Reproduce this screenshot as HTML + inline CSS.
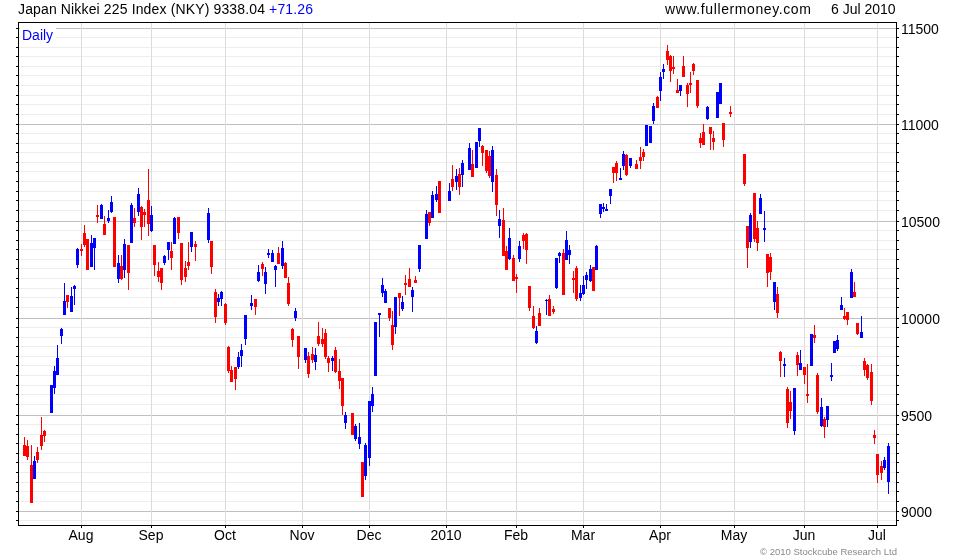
<!DOCTYPE html>
<html><head><meta charset="utf-8"><style>
html,body{margin:0;padding:0;background:#fff;}
body{width:980px;height:560px;position:relative;overflow:hidden;font-family:"Liberation Sans",sans-serif;}
svg{position:absolute;left:0;top:0;}
.t{position:absolute;white-space:nowrap;line-height:1;color:#000;will-change:transform;}
</style></head><body>
<svg width="980" height="560" viewBox="0 0 980 560" shape-rendering="crispEdges">
<rect x="19" y="520" width="877" height="1" fill="#eeeeee"/>
<rect x="16" y="520" width="2" height="1" fill="#000"/>
<rect x="897" y="520" width="2" height="1" fill="#000"/>
<rect x="19" y="511" width="877" height="1" fill="#c0c0c0"/>
<rect x="16" y="511" width="2" height="1" fill="#000"/>
<rect x="897" y="511" width="2" height="1" fill="#000"/>
<rect x="19" y="501" width="877" height="1" fill="#eeeeee"/>
<rect x="16" y="501" width="2" height="1" fill="#000"/>
<rect x="897" y="501" width="2" height="1" fill="#000"/>
<rect x="19" y="491" width="877" height="1" fill="#eeeeee"/>
<rect x="16" y="491" width="2" height="1" fill="#000"/>
<rect x="897" y="491" width="2" height="1" fill="#000"/>
<rect x="19" y="482" width="877" height="1" fill="#eeeeee"/>
<rect x="16" y="482" width="2" height="1" fill="#000"/>
<rect x="897" y="482" width="2" height="1" fill="#000"/>
<rect x="19" y="472" width="877" height="1" fill="#eeeeee"/>
<rect x="16" y="472" width="2" height="1" fill="#000"/>
<rect x="897" y="472" width="2" height="1" fill="#000"/>
<rect x="19" y="462" width="877" height="1" fill="#eeeeee"/>
<rect x="16" y="462" width="2" height="1" fill="#000"/>
<rect x="897" y="462" width="2" height="1" fill="#000"/>
<rect x="19" y="453" width="877" height="1" fill="#eeeeee"/>
<rect x="16" y="453" width="2" height="1" fill="#000"/>
<rect x="897" y="453" width="2" height="1" fill="#000"/>
<rect x="19" y="443" width="877" height="1" fill="#eeeeee"/>
<rect x="16" y="443" width="2" height="1" fill="#000"/>
<rect x="897" y="443" width="2" height="1" fill="#000"/>
<rect x="19" y="434" width="877" height="1" fill="#eeeeee"/>
<rect x="16" y="434" width="2" height="1" fill="#000"/>
<rect x="897" y="434" width="2" height="1" fill="#000"/>
<rect x="19" y="424" width="877" height="1" fill="#eeeeee"/>
<rect x="16" y="424" width="2" height="1" fill="#000"/>
<rect x="897" y="424" width="2" height="1" fill="#000"/>
<rect x="19" y="415" width="877" height="1" fill="#c0c0c0"/>
<rect x="16" y="415" width="2" height="1" fill="#000"/>
<rect x="897" y="415" width="2" height="1" fill="#000"/>
<rect x="19" y="404" width="877" height="1" fill="#eeeeee"/>
<rect x="16" y="404" width="2" height="1" fill="#000"/>
<rect x="897" y="404" width="2" height="1" fill="#000"/>
<rect x="19" y="394" width="877" height="1" fill="#eeeeee"/>
<rect x="16" y="394" width="2" height="1" fill="#000"/>
<rect x="897" y="394" width="2" height="1" fill="#000"/>
<rect x="19" y="385" width="877" height="1" fill="#eeeeee"/>
<rect x="16" y="385" width="2" height="1" fill="#000"/>
<rect x="897" y="385" width="2" height="1" fill="#000"/>
<rect x="19" y="375" width="877" height="1" fill="#eeeeee"/>
<rect x="16" y="375" width="2" height="1" fill="#000"/>
<rect x="897" y="375" width="2" height="1" fill="#000"/>
<rect x="19" y="365" width="877" height="1" fill="#eeeeee"/>
<rect x="16" y="365" width="2" height="1" fill="#000"/>
<rect x="897" y="365" width="2" height="1" fill="#000"/>
<rect x="19" y="356" width="877" height="1" fill="#eeeeee"/>
<rect x="16" y="356" width="2" height="1" fill="#000"/>
<rect x="897" y="356" width="2" height="1" fill="#000"/>
<rect x="19" y="346" width="877" height="1" fill="#eeeeee"/>
<rect x="16" y="346" width="2" height="1" fill="#000"/>
<rect x="897" y="346" width="2" height="1" fill="#000"/>
<rect x="19" y="337" width="877" height="1" fill="#eeeeee"/>
<rect x="16" y="337" width="2" height="1" fill="#000"/>
<rect x="897" y="337" width="2" height="1" fill="#000"/>
<rect x="19" y="327" width="877" height="1" fill="#eeeeee"/>
<rect x="16" y="327" width="2" height="1" fill="#000"/>
<rect x="897" y="327" width="2" height="1" fill="#000"/>
<rect x="19" y="318" width="877" height="1" fill="#c0c0c0"/>
<rect x="16" y="318" width="2" height="1" fill="#000"/>
<rect x="897" y="318" width="2" height="1" fill="#000"/>
<rect x="19" y="307" width="877" height="1" fill="#eeeeee"/>
<rect x="16" y="307" width="2" height="1" fill="#000"/>
<rect x="897" y="307" width="2" height="1" fill="#000"/>
<rect x="19" y="297" width="877" height="1" fill="#eeeeee"/>
<rect x="16" y="297" width="2" height="1" fill="#000"/>
<rect x="897" y="297" width="2" height="1" fill="#000"/>
<rect x="19" y="288" width="877" height="1" fill="#eeeeee"/>
<rect x="16" y="288" width="2" height="1" fill="#000"/>
<rect x="897" y="288" width="2" height="1" fill="#000"/>
<rect x="19" y="278" width="877" height="1" fill="#eeeeee"/>
<rect x="16" y="278" width="2" height="1" fill="#000"/>
<rect x="897" y="278" width="2" height="1" fill="#000"/>
<rect x="19" y="268" width="877" height="1" fill="#eeeeee"/>
<rect x="16" y="268" width="2" height="1" fill="#000"/>
<rect x="897" y="268" width="2" height="1" fill="#000"/>
<rect x="19" y="259" width="877" height="1" fill="#eeeeee"/>
<rect x="16" y="259" width="2" height="1" fill="#000"/>
<rect x="897" y="259" width="2" height="1" fill="#000"/>
<rect x="19" y="249" width="877" height="1" fill="#eeeeee"/>
<rect x="16" y="249" width="2" height="1" fill="#000"/>
<rect x="897" y="249" width="2" height="1" fill="#000"/>
<rect x="19" y="240" width="877" height="1" fill="#eeeeee"/>
<rect x="16" y="240" width="2" height="1" fill="#000"/>
<rect x="897" y="240" width="2" height="1" fill="#000"/>
<rect x="19" y="230" width="877" height="1" fill="#eeeeee"/>
<rect x="16" y="230" width="2" height="1" fill="#000"/>
<rect x="897" y="230" width="2" height="1" fill="#000"/>
<rect x="19" y="221" width="877" height="1" fill="#c0c0c0"/>
<rect x="16" y="221" width="2" height="1" fill="#000"/>
<rect x="897" y="221" width="2" height="1" fill="#000"/>
<rect x="19" y="210" width="877" height="1" fill="#eeeeee"/>
<rect x="16" y="210" width="2" height="1" fill="#000"/>
<rect x="897" y="210" width="2" height="1" fill="#000"/>
<rect x="19" y="200" width="877" height="1" fill="#eeeeee"/>
<rect x="16" y="200" width="2" height="1" fill="#000"/>
<rect x="897" y="200" width="2" height="1" fill="#000"/>
<rect x="19" y="191" width="877" height="1" fill="#eeeeee"/>
<rect x="16" y="191" width="2" height="1" fill="#000"/>
<rect x="897" y="191" width="2" height="1" fill="#000"/>
<rect x="19" y="181" width="877" height="1" fill="#eeeeee"/>
<rect x="16" y="181" width="2" height="1" fill="#000"/>
<rect x="897" y="181" width="2" height="1" fill="#000"/>
<rect x="19" y="171" width="877" height="1" fill="#eeeeee"/>
<rect x="16" y="171" width="2" height="1" fill="#000"/>
<rect x="897" y="171" width="2" height="1" fill="#000"/>
<rect x="19" y="162" width="877" height="1" fill="#eeeeee"/>
<rect x="16" y="162" width="2" height="1" fill="#000"/>
<rect x="897" y="162" width="2" height="1" fill="#000"/>
<rect x="19" y="152" width="877" height="1" fill="#eeeeee"/>
<rect x="16" y="152" width="2" height="1" fill="#000"/>
<rect x="897" y="152" width="2" height="1" fill="#000"/>
<rect x="19" y="143" width="877" height="1" fill="#eeeeee"/>
<rect x="16" y="143" width="2" height="1" fill="#000"/>
<rect x="897" y="143" width="2" height="1" fill="#000"/>
<rect x="19" y="133" width="877" height="1" fill="#eeeeee"/>
<rect x="16" y="133" width="2" height="1" fill="#000"/>
<rect x="897" y="133" width="2" height="1" fill="#000"/>
<rect x="19" y="124" width="877" height="1" fill="#c0c0c0"/>
<rect x="16" y="124" width="2" height="1" fill="#000"/>
<rect x="897" y="124" width="2" height="1" fill="#000"/>
<rect x="19" y="114" width="877" height="1" fill="#eeeeee"/>
<rect x="16" y="114" width="2" height="1" fill="#000"/>
<rect x="897" y="114" width="2" height="1" fill="#000"/>
<rect x="19" y="104" width="877" height="1" fill="#eeeeee"/>
<rect x="16" y="104" width="2" height="1" fill="#000"/>
<rect x="897" y="104" width="2" height="1" fill="#000"/>
<rect x="19" y="95" width="877" height="1" fill="#eeeeee"/>
<rect x="16" y="95" width="2" height="1" fill="#000"/>
<rect x="897" y="95" width="2" height="1" fill="#000"/>
<rect x="19" y="85" width="877" height="1" fill="#eeeeee"/>
<rect x="16" y="85" width="2" height="1" fill="#000"/>
<rect x="897" y="85" width="2" height="1" fill="#000"/>
<rect x="19" y="75" width="877" height="1" fill="#eeeeee"/>
<rect x="16" y="75" width="2" height="1" fill="#000"/>
<rect x="897" y="75" width="2" height="1" fill="#000"/>
<rect x="19" y="66" width="877" height="1" fill="#eeeeee"/>
<rect x="16" y="66" width="2" height="1" fill="#000"/>
<rect x="897" y="66" width="2" height="1" fill="#000"/>
<rect x="19" y="56" width="877" height="1" fill="#eeeeee"/>
<rect x="16" y="56" width="2" height="1" fill="#000"/>
<rect x="897" y="56" width="2" height="1" fill="#000"/>
<rect x="19" y="47" width="877" height="1" fill="#eeeeee"/>
<rect x="16" y="47" width="2" height="1" fill="#000"/>
<rect x="897" y="47" width="2" height="1" fill="#000"/>
<rect x="19" y="37" width="877" height="1" fill="#eeeeee"/>
<rect x="16" y="37" width="2" height="1" fill="#000"/>
<rect x="897" y="37" width="2" height="1" fill="#000"/>
<rect x="19" y="28" width="877" height="1" fill="#c0c0c0"/>
<rect x="16" y="28" width="2" height="1" fill="#000"/>
<rect x="897" y="28" width="2" height="1" fill="#000"/>
<rect x="81" y="23" width="1" height="502" fill="#dcdcdc"/>
<rect x="81" y="526" width="1" height="2" fill="#000"/>
<rect x="151" y="23" width="1" height="502" fill="#dcdcdc"/>
<rect x="151" y="526" width="1" height="2" fill="#000"/>
<rect x="225" y="23" width="1" height="502" fill="#dcdcdc"/>
<rect x="225" y="526" width="1" height="2" fill="#000"/>
<rect x="302" y="23" width="1" height="502" fill="#dcdcdc"/>
<rect x="302" y="526" width="1" height="2" fill="#000"/>
<rect x="369" y="23" width="1" height="502" fill="#dcdcdc"/>
<rect x="369" y="526" width="1" height="2" fill="#000"/>
<rect x="446" y="23" width="1" height="502" fill="#dcdcdc"/>
<rect x="446" y="526" width="1" height="2" fill="#000"/>
<rect x="516" y="23" width="1" height="502" fill="#dcdcdc"/>
<rect x="516" y="526" width="1" height="2" fill="#000"/>
<rect x="583" y="23" width="1" height="502" fill="#dcdcdc"/>
<rect x="583" y="526" width="1" height="2" fill="#000"/>
<rect x="660" y="23" width="1" height="502" fill="#dcdcdc"/>
<rect x="660" y="526" width="1" height="2" fill="#000"/>
<rect x="734" y="23" width="1" height="502" fill="#dcdcdc"/>
<rect x="734" y="526" width="1" height="2" fill="#000"/>
<rect x="804" y="23" width="1" height="502" fill="#dcdcdc"/>
<rect x="804" y="526" width="1" height="2" fill="#000"/>
<rect x="877" y="23" width="1" height="502" fill="#dcdcdc"/>
<rect x="877" y="526" width="1" height="2" fill="#000"/>
<rect x="20" y="24" width="36" height="21" fill="#fff"/>
<rect x="24" y="437" width="1" height="19" fill="#ff0000"/>
<rect x="23" y="445" width="3" height="11" fill="#ff0000"/>
<rect x="27" y="440" width="1" height="20" fill="#ff0000"/>
<rect x="26" y="446" width="3" height="11" fill="#ff0000"/>
<rect x="31" y="445" width="1" height="58" fill="#ff0000"/>
<rect x="30" y="465" width="3" height="38" fill="#ff0000"/>
<rect x="34" y="456" width="1" height="23" fill="#0000ff"/>
<rect x="33" y="461" width="3" height="18" fill="#0000ff"/>
<rect x="37" y="447" width="1" height="16" fill="#ff0000"/>
<rect x="36" y="452" width="3" height="8" fill="#ff0000"/>
<rect x="41" y="417" width="1" height="33" fill="#ff0000"/>
<rect x="40" y="435" width="3" height="11" fill="#ff0000"/>
<rect x="44" y="430" width="1" height="12" fill="#ff0000"/>
<rect x="43" y="431" width="3" height="5" fill="#ff0000"/>
<rect x="51" y="385" width="1" height="28" fill="#0000ff"/>
<rect x="50" y="385" width="3" height="28" fill="#0000ff"/>
<rect x="54" y="366" width="1" height="28" fill="#0000ff"/>
<rect x="53" y="371" width="3" height="17" fill="#0000ff"/>
<rect x="57" y="345" width="1" height="30" fill="#0000ff"/>
<rect x="56" y="358" width="3" height="17" fill="#0000ff"/>
<rect x="61" y="328" width="1" height="16" fill="#0000ff"/>
<rect x="60" y="329" width="3" height="7" fill="#0000ff"/>
<rect x="64" y="283" width="1" height="32" fill="#0000ff"/>
<rect x="63" y="301" width="3" height="14" fill="#0000ff"/>
<rect x="67" y="295" width="1" height="13" fill="#ff0000"/>
<rect x="66" y="295" width="3" height="7" fill="#ff0000"/>
<rect x="71" y="287" width="1" height="25" fill="#0000ff"/>
<rect x="70" y="296" width="3" height="16" fill="#0000ff"/>
<rect x="74" y="285" width="1" height="20" fill="#0000ff"/>
<rect x="73" y="286" width="3" height="3" fill="#0000ff"/>
<rect x="77" y="248" width="1" height="20" fill="#0000ff"/>
<rect x="76" y="249" width="3" height="16" fill="#0000ff"/>
<rect x="81" y="244" width="1" height="12" fill="#ff0000"/>
<rect x="80" y="249" width="3" height="2" fill="#ff0000"/>
<rect x="84" y="225" width="1" height="22" fill="#ff0000"/>
<rect x="83" y="233" width="3" height="12" fill="#ff0000"/>
<rect x="87" y="239" width="1" height="31" fill="#ff0000"/>
<rect x="86" y="239" width="3" height="31" fill="#ff0000"/>
<rect x="91" y="235" width="1" height="32" fill="#0000ff"/>
<rect x="90" y="243" width="3" height="24" fill="#0000ff"/>
<rect x="94" y="238" width="1" height="32" fill="#0000ff"/>
<rect x="93" y="238" width="3" height="10" fill="#0000ff"/>
<rect x="97" y="205" width="1" height="18" fill="#ff0000"/>
<rect x="96" y="215" width="3" height="2" fill="#ff0000"/>
<rect x="101" y="204" width="1" height="15" fill="#0000ff"/>
<rect x="100" y="205" width="3" height="14" fill="#0000ff"/>
<rect x="104" y="216" width="1" height="19" fill="#ff0000"/>
<rect x="103" y="224" width="3" height="11" fill="#ff0000"/>
<rect x="108" y="210" width="1" height="13" fill="#0000ff"/>
<rect x="107" y="218" width="3" height="3" fill="#0000ff"/>
<rect x="111" y="196" width="1" height="17" fill="#0000ff"/>
<rect x="110" y="202" width="3" height="10" fill="#0000ff"/>
<rect x="114" y="217" width="1" height="50" fill="#ff0000"/>
<rect x="113" y="217" width="3" height="50" fill="#ff0000"/>
<rect x="118" y="255" width="1" height="28" fill="#0000ff"/>
<rect x="117" y="263" width="3" height="16" fill="#0000ff"/>
<rect x="121" y="255" width="1" height="25" fill="#ff0000"/>
<rect x="120" y="266" width="3" height="13" fill="#ff0000"/>
<rect x="124" y="239" width="1" height="39" fill="#0000ff"/>
<rect x="123" y="244" width="3" height="26" fill="#0000ff"/>
<rect x="128" y="245" width="1" height="45" fill="#ff0000"/>
<rect x="127" y="245" width="3" height="28" fill="#ff0000"/>
<rect x="131" y="203" width="1" height="40" fill="#0000ff"/>
<rect x="130" y="205" width="3" height="38" fill="#0000ff"/>
<rect x="134" y="208" width="1" height="19" fill="#ff0000"/>
<rect x="133" y="218" width="3" height="5" fill="#ff0000"/>
<rect x="138" y="188" width="1" height="28" fill="#0000ff"/>
<rect x="137" y="194" width="3" height="18" fill="#0000ff"/>
<rect x="141" y="206" width="1" height="34" fill="#ff0000"/>
<rect x="140" y="207" width="3" height="20" fill="#ff0000"/>
<rect x="144" y="209" width="1" height="18" fill="#ff0000"/>
<rect x="143" y="212" width="3" height="3" fill="#ff0000"/>
<rect x="148" y="169" width="1" height="67" fill="#ff0000"/>
<rect x="147" y="200" width="3" height="24" fill="#ff0000"/>
<rect x="151" y="206" width="1" height="26" fill="#0000ff"/>
<rect x="150" y="215" width="3" height="16" fill="#0000ff"/>
<rect x="154" y="245" width="1" height="31" fill="#ff0000"/>
<rect x="153" y="245" width="3" height="20" fill="#ff0000"/>
<rect x="158" y="262" width="1" height="20" fill="#ff0000"/>
<rect x="157" y="271" width="3" height="6" fill="#ff0000"/>
<rect x="161" y="268" width="1" height="22" fill="#ff0000"/>
<rect x="160" y="268" width="3" height="15" fill="#ff0000"/>
<rect x="164" y="255" width="1" height="10" fill="#0000ff"/>
<rect x="163" y="256" width="3" height="7" fill="#0000ff"/>
<rect x="168" y="242" width="1" height="18" fill="#0000ff"/>
<rect x="167" y="242" width="3" height="8" fill="#0000ff"/>
<rect x="171" y="242" width="1" height="28" fill="#ff0000"/>
<rect x="170" y="251" width="3" height="7" fill="#ff0000"/>
<rect x="174" y="217" width="1" height="27" fill="#0000ff"/>
<rect x="173" y="218" width="3" height="26" fill="#0000ff"/>
<rect x="178" y="217" width="1" height="22" fill="#ff0000"/>
<rect x="177" y="217" width="3" height="16" fill="#ff0000"/>
<rect x="181" y="243" width="1" height="42" fill="#ff0000"/>
<rect x="180" y="243" width="3" height="37" fill="#ff0000"/>
<rect x="185" y="261" width="1" height="21" fill="#ff0000"/>
<rect x="184" y="268" width="3" height="9" fill="#ff0000"/>
<rect x="188" y="242" width="1" height="28" fill="#ff0000"/>
<rect x="187" y="262" width="3" height="4" fill="#ff0000"/>
<rect x="191" y="232" width="1" height="20" fill="#0000ff"/>
<rect x="190" y="232" width="3" height="15" fill="#0000ff"/>
<rect x="195" y="241" width="1" height="20" fill="#ff0000"/>
<rect x="194" y="244" width="3" height="3" fill="#ff0000"/>
<rect x="208" y="208" width="1" height="35" fill="#0000ff"/>
<rect x="207" y="213" width="3" height="27" fill="#0000ff"/>
<rect x="211" y="241" width="1" height="33" fill="#ff0000"/>
<rect x="210" y="241" width="3" height="26" fill="#ff0000"/>
<rect x="215" y="289" width="1" height="34" fill="#ff0000"/>
<rect x="214" y="292" width="3" height="25" fill="#ff0000"/>
<rect x="218" y="294" width="1" height="12" fill="#0000ff"/>
<rect x="217" y="298" width="3" height="4" fill="#0000ff"/>
<rect x="221" y="291" width="1" height="15" fill="#0000ff"/>
<rect x="220" y="292" width="3" height="7" fill="#0000ff"/>
<rect x="225" y="303" width="1" height="22" fill="#ff0000"/>
<rect x="224" y="304" width="3" height="19" fill="#ff0000"/>
<rect x="228" y="346" width="1" height="27" fill="#ff0000"/>
<rect x="227" y="347" width="3" height="24" fill="#ff0000"/>
<rect x="231" y="366" width="1" height="16" fill="#ff0000"/>
<rect x="230" y="370" width="3" height="12" fill="#ff0000"/>
<rect x="235" y="367" width="1" height="23" fill="#ff0000"/>
<rect x="234" y="367" width="3" height="12" fill="#ff0000"/>
<rect x="238" y="352" width="1" height="17" fill="#0000ff"/>
<rect x="237" y="357" width="3" height="10" fill="#0000ff"/>
<rect x="241" y="344" width="1" height="23" fill="#0000ff"/>
<rect x="240" y="350" width="3" height="6" fill="#0000ff"/>
<rect x="245" y="315" width="1" height="30" fill="#0000ff"/>
<rect x="244" y="315" width="3" height="24" fill="#0000ff"/>
<rect x="251" y="295" width="1" height="15" fill="#0000ff"/>
<rect x="250" y="303" width="3" height="3" fill="#0000ff"/>
<rect x="255" y="299" width="1" height="16" fill="#ff0000"/>
<rect x="254" y="299" width="3" height="8" fill="#ff0000"/>
<rect x="258" y="265" width="1" height="17" fill="#0000ff"/>
<rect x="257" y="272" width="3" height="9" fill="#0000ff"/>
<rect x="262" y="262" width="1" height="14" fill="#ff0000"/>
<rect x="261" y="264" width="3" height="5" fill="#ff0000"/>
<rect x="265" y="267" width="1" height="27" fill="#0000ff"/>
<rect x="264" y="272" width="3" height="12" fill="#0000ff"/>
<rect x="268" y="249" width="1" height="9" fill="#0000ff"/>
<rect x="267" y="253" width="3" height="2" fill="#0000ff"/>
<rect x="272" y="250" width="1" height="12" fill="#0000ff"/>
<rect x="271" y="253" width="3" height="9" fill="#0000ff"/>
<rect x="275" y="265" width="1" height="22" fill="#0000ff"/>
<rect x="274" y="266" width="3" height="4" fill="#0000ff"/>
<rect x="278" y="247" width="1" height="17" fill="#ff0000"/>
<rect x="277" y="253" width="3" height="11" fill="#ff0000"/>
<rect x="282" y="241" width="1" height="28" fill="#0000ff"/>
<rect x="281" y="248" width="3" height="18" fill="#0000ff"/>
<rect x="285" y="262" width="1" height="16" fill="#ff0000"/>
<rect x="284" y="263" width="3" height="15" fill="#ff0000"/>
<rect x="288" y="277" width="1" height="29" fill="#ff0000"/>
<rect x="287" y="283" width="3" height="21" fill="#ff0000"/>
<rect x="292" y="328" width="1" height="19" fill="#ff0000"/>
<rect x="291" y="329" width="3" height="11" fill="#ff0000"/>
<rect x="295" y="308" width="1" height="13" fill="#0000ff"/>
<rect x="294" y="311" width="3" height="7" fill="#0000ff"/>
<rect x="298" y="336" width="1" height="33" fill="#ff0000"/>
<rect x="297" y="336" width="3" height="21" fill="#ff0000"/>
<rect x="305" y="348" width="1" height="15" fill="#0000ff"/>
<rect x="304" y="348" width="3" height="12" fill="#0000ff"/>
<rect x="308" y="352" width="1" height="26" fill="#ff0000"/>
<rect x="307" y="356" width="3" height="18" fill="#ff0000"/>
<rect x="312" y="347" width="1" height="16" fill="#ff0000"/>
<rect x="311" y="354" width="3" height="6" fill="#ff0000"/>
<rect x="315" y="348" width="1" height="22" fill="#0000ff"/>
<rect x="314" y="355" width="3" height="7" fill="#0000ff"/>
<rect x="318" y="322" width="1" height="24" fill="#ff0000"/>
<rect x="317" y="336" width="3" height="8" fill="#ff0000"/>
<rect x="322" y="328" width="1" height="19" fill="#ff0000"/>
<rect x="321" y="339" width="3" height="5" fill="#ff0000"/>
<rect x="325" y="329" width="1" height="30" fill="#ff0000"/>
<rect x="324" y="333" width="3" height="24" fill="#ff0000"/>
<rect x="328" y="356" width="1" height="16" fill="#ff0000"/>
<rect x="327" y="358" width="3" height="5" fill="#ff0000"/>
<rect x="332" y="356" width="1" height="15" fill="#0000ff"/>
<rect x="331" y="358" width="3" height="3" fill="#0000ff"/>
<rect x="335" y="347" width="1" height="26" fill="#ff0000"/>
<rect x="334" y="350" width="3" height="22" fill="#ff0000"/>
<rect x="339" y="359" width="1" height="30" fill="#ff0000"/>
<rect x="338" y="371" width="3" height="10" fill="#ff0000"/>
<rect x="342" y="378" width="1" height="37" fill="#ff0000"/>
<rect x="341" y="378" width="3" height="28" fill="#ff0000"/>
<rect x="345" y="412" width="1" height="17" fill="#0000ff"/>
<rect x="344" y="415" width="3" height="8" fill="#0000ff"/>
<rect x="352" y="413" width="1" height="22" fill="#ff0000"/>
<rect x="351" y="413" width="3" height="22" fill="#ff0000"/>
<rect x="355" y="424" width="1" height="17" fill="#0000ff"/>
<rect x="354" y="426" width="3" height="13" fill="#0000ff"/>
<rect x="359" y="423" width="1" height="26" fill="#0000ff"/>
<rect x="358" y="437" width="3" height="7" fill="#0000ff"/>
<rect x="362" y="462" width="1" height="35" fill="#ff0000"/>
<rect x="361" y="462" width="3" height="35" fill="#ff0000"/>
<rect x="365" y="443" width="1" height="37" fill="#0000ff"/>
<rect x="364" y="445" width="3" height="31" fill="#0000ff"/>
<rect x="369" y="401" width="1" height="65" fill="#0000ff"/>
<rect x="368" y="401" width="3" height="57" fill="#0000ff"/>
<rect x="372" y="387" width="1" height="25" fill="#0000ff"/>
<rect x="371" y="394" width="3" height="12" fill="#0000ff"/>
<rect x="375" y="322" width="1" height="54" fill="#0000ff"/>
<rect x="374" y="322" width="3" height="54" fill="#0000ff"/>
<rect x="379" y="313" width="1" height="24" fill="#0000ff"/>
<rect x="378" y="313" width="3" height="2" fill="#0000ff"/>
<rect x="382" y="278" width="1" height="19" fill="#0000ff"/>
<rect x="381" y="285" width="3" height="8" fill="#0000ff"/>
<rect x="385" y="289" width="1" height="14" fill="#0000ff"/>
<rect x="384" y="291" width="3" height="12" fill="#0000ff"/>
<rect x="389" y="308" width="1" height="13" fill="#ff0000"/>
<rect x="388" y="308" width="3" height="10" fill="#ff0000"/>
<rect x="392" y="311" width="1" height="39" fill="#ff0000"/>
<rect x="391" y="325" width="3" height="20" fill="#ff0000"/>
<rect x="395" y="297" width="1" height="37" fill="#0000ff"/>
<rect x="394" y="297" width="3" height="30" fill="#0000ff"/>
<rect x="399" y="293" width="1" height="23" fill="#ff0000"/>
<rect x="398" y="293" width="3" height="5" fill="#ff0000"/>
<rect x="402" y="296" width="1" height="15" fill="#0000ff"/>
<rect x="401" y="302" width="3" height="7" fill="#0000ff"/>
<rect x="405" y="275" width="1" height="20" fill="#ff0000"/>
<rect x="404" y="283" width="3" height="2" fill="#ff0000"/>
<rect x="409" y="268" width="1" height="19" fill="#ff0000"/>
<rect x="408" y="279" width="3" height="8" fill="#ff0000"/>
<rect x="412" y="287" width="1" height="25" fill="#0000ff"/>
<rect x="411" y="290" width="3" height="7" fill="#0000ff"/>
<rect x="415" y="276" width="1" height="7" fill="#ff0000"/>
<rect x="414" y="280" width="3" height="3" fill="#ff0000"/>
<rect x="419" y="245" width="1" height="27" fill="#0000ff"/>
<rect x="418" y="245" width="3" height="24" fill="#0000ff"/>
<rect x="426" y="210" width="1" height="29" fill="#0000ff"/>
<rect x="425" y="214" width="3" height="25" fill="#0000ff"/>
<rect x="429" y="212" width="1" height="14" fill="#ff0000"/>
<rect x="428" y="212" width="3" height="11" fill="#ff0000"/>
<rect x="432" y="191" width="1" height="27" fill="#0000ff"/>
<rect x="431" y="195" width="3" height="23" fill="#0000ff"/>
<rect x="436" y="186" width="1" height="16" fill="#0000ff"/>
<rect x="435" y="194" width="3" height="6" fill="#0000ff"/>
<rect x="439" y="181" width="1" height="32" fill="#ff0000"/>
<rect x="438" y="181" width="3" height="32" fill="#ff0000"/>
<rect x="449" y="183" width="1" height="18" fill="#0000ff"/>
<rect x="448" y="191" width="3" height="10" fill="#0000ff"/>
<rect x="452" y="165" width="1" height="26" fill="#ff0000"/>
<rect x="451" y="179" width="3" height="8" fill="#ff0000"/>
<rect x="456" y="169" width="1" height="21" fill="#0000ff"/>
<rect x="455" y="176" width="3" height="6" fill="#0000ff"/>
<rect x="459" y="168" width="1" height="27" fill="#ff0000"/>
<rect x="458" y="174" width="3" height="13" fill="#ff0000"/>
<rect x="462" y="160" width="1" height="27" fill="#0000ff"/>
<rect x="461" y="163" width="3" height="12" fill="#0000ff"/>
<rect x="469" y="143" width="1" height="27" fill="#0000ff"/>
<rect x="468" y="148" width="3" height="22" fill="#0000ff"/>
<rect x="472" y="150" width="1" height="27" fill="#ff0000"/>
<rect x="471" y="164" width="3" height="13" fill="#ff0000"/>
<rect x="476" y="142" width="1" height="26" fill="#0000ff"/>
<rect x="475" y="142" width="3" height="26" fill="#0000ff"/>
<rect x="479" y="128" width="1" height="19" fill="#0000ff"/>
<rect x="478" y="128" width="3" height="13" fill="#0000ff"/>
<rect x="482" y="145" width="1" height="21" fill="#ff0000"/>
<rect x="481" y="146" width="3" height="7" fill="#ff0000"/>
<rect x="486" y="150" width="1" height="23" fill="#ff0000"/>
<rect x="485" y="150" width="3" height="21" fill="#ff0000"/>
<rect x="489" y="151" width="1" height="27" fill="#ff0000"/>
<rect x="488" y="156" width="3" height="20" fill="#ff0000"/>
<rect x="492" y="146" width="1" height="46" fill="#0000ff"/>
<rect x="491" y="150" width="3" height="32" fill="#0000ff"/>
<rect x="496" y="169" width="1" height="47" fill="#ff0000"/>
<rect x="495" y="175" width="3" height="30" fill="#ff0000"/>
<rect x="499" y="210" width="1" height="28" fill="#0000ff"/>
<rect x="498" y="219" width="3" height="7" fill="#0000ff"/>
<rect x="503" y="208" width="1" height="48" fill="#ff0000"/>
<rect x="502" y="220" width="3" height="36" fill="#ff0000"/>
<rect x="506" y="246" width="1" height="24" fill="#ff0000"/>
<rect x="505" y="251" width="3" height="19" fill="#ff0000"/>
<rect x="509" y="228" width="1" height="32" fill="#0000ff"/>
<rect x="508" y="238" width="3" height="21" fill="#0000ff"/>
<rect x="513" y="255" width="1" height="26" fill="#ff0000"/>
<rect x="512" y="258" width="3" height="23" fill="#ff0000"/>
<rect x="516" y="274" width="1" height="19" fill="#ff0000"/>
<rect x="515" y="277" width="3" height="2" fill="#ff0000"/>
<rect x="519" y="241" width="1" height="21" fill="#0000ff"/>
<rect x="518" y="246" width="3" height="13" fill="#0000ff"/>
<rect x="523" y="233" width="1" height="16" fill="#ff0000"/>
<rect x="522" y="235" width="3" height="6" fill="#ff0000"/>
<rect x="526" y="233" width="1" height="31" fill="#ff0000"/>
<rect x="525" y="234" width="3" height="16" fill="#ff0000"/>
<rect x="529" y="286" width="1" height="25" fill="#ff0000"/>
<rect x="528" y="286" width="3" height="22" fill="#ff0000"/>
<rect x="533" y="306" width="1" height="23" fill="#ff0000"/>
<rect x="532" y="316" width="3" height="12" fill="#ff0000"/>
<rect x="536" y="326" width="1" height="18" fill="#0000ff"/>
<rect x="535" y="331" width="3" height="12" fill="#0000ff"/>
<rect x="539" y="308" width="1" height="18" fill="#ff0000"/>
<rect x="538" y="313" width="3" height="13" fill="#ff0000"/>
<rect x="546" y="299" width="1" height="16" fill="#0000ff"/>
<rect x="545" y="300" width="3" height="1" fill="#0000ff"/>
<rect x="549" y="295" width="1" height="21" fill="#ff0000"/>
<rect x="548" y="299" width="3" height="17" fill="#ff0000"/>
<rect x="553" y="306" width="1" height="8" fill="#ff0000"/>
<rect x="552" y="309" width="3" height="3" fill="#ff0000"/>
<rect x="556" y="258" width="1" height="31" fill="#0000ff"/>
<rect x="555" y="258" width="3" height="30" fill="#0000ff"/>
<rect x="559" y="252" width="1" height="11" fill="#0000ff"/>
<rect x="558" y="253" width="3" height="3" fill="#0000ff"/>
<rect x="563" y="249" width="1" height="46" fill="#ff0000"/>
<rect x="562" y="253" width="3" height="42" fill="#ff0000"/>
<rect x="566" y="231" width="1" height="29" fill="#0000ff"/>
<rect x="565" y="240" width="3" height="20" fill="#0000ff"/>
<rect x="569" y="245" width="1" height="19" fill="#0000ff"/>
<rect x="568" y="250" width="3" height="5" fill="#0000ff"/>
<rect x="573" y="271" width="1" height="22" fill="#ff0000"/>
<rect x="572" y="278" width="3" height="2" fill="#ff0000"/>
<rect x="576" y="266" width="1" height="35" fill="#ff0000"/>
<rect x="575" y="268" width="3" height="31" fill="#ff0000"/>
<rect x="580" y="285" width="1" height="16" fill="#0000ff"/>
<rect x="579" y="293" width="3" height="5" fill="#0000ff"/>
<rect x="583" y="276" width="1" height="19" fill="#0000ff"/>
<rect x="582" y="285" width="3" height="9" fill="#0000ff"/>
<rect x="586" y="272" width="1" height="17" fill="#0000ff"/>
<rect x="585" y="275" width="3" height="5" fill="#0000ff"/>
<rect x="590" y="265" width="1" height="17" fill="#0000ff"/>
<rect x="589" y="269" width="3" height="12" fill="#0000ff"/>
<rect x="593" y="267" width="1" height="24" fill="#ff0000"/>
<rect x="592" y="267" width="3" height="24" fill="#ff0000"/>
<rect x="596" y="245" width="1" height="25" fill="#0000ff"/>
<rect x="595" y="246" width="3" height="24" fill="#0000ff"/>
<rect x="600" y="204" width="1" height="14" fill="#0000ff"/>
<rect x="599" y="204" width="3" height="10" fill="#0000ff"/>
<rect x="603" y="203" width="1" height="9" fill="#0000ff"/>
<rect x="602" y="207" width="3" height="2" fill="#0000ff"/>
<rect x="606" y="204" width="1" height="7" fill="#0000ff"/>
<rect x="605" y="209" width="3" height="2" fill="#0000ff"/>
<rect x="610" y="189" width="1" height="15" fill="#0000ff"/>
<rect x="609" y="189" width="3" height="7" fill="#0000ff"/>
<rect x="613" y="167" width="1" height="16" fill="#ff0000"/>
<rect x="612" y="167" width="3" height="6" fill="#ff0000"/>
<rect x="616" y="161" width="1" height="20" fill="#ff0000"/>
<rect x="615" y="163" width="3" height="10" fill="#ff0000"/>
<rect x="620" y="168" width="1" height="12" fill="#0000ff"/>
<rect x="619" y="178" width="3" height="2" fill="#0000ff"/>
<rect x="623" y="151" width="1" height="19" fill="#0000ff"/>
<rect x="622" y="154" width="3" height="12" fill="#0000ff"/>
<rect x="626" y="154" width="1" height="22" fill="#ff0000"/>
<rect x="625" y="155" width="3" height="20" fill="#ff0000"/>
<rect x="630" y="158" width="1" height="10" fill="#0000ff"/>
<rect x="629" y="158" width="3" height="8" fill="#0000ff"/>
<rect x="636" y="160" width="1" height="9" fill="#ff0000"/>
<rect x="635" y="164" width="3" height="5" fill="#ff0000"/>
<rect x="640" y="147" width="1" height="22" fill="#ff0000"/>
<rect x="639" y="157" width="3" height="4" fill="#ff0000"/>
<rect x="643" y="149" width="1" height="12" fill="#ff0000"/>
<rect x="642" y="152" width="3" height="5" fill="#ff0000"/>
<rect x="646" y="125" width="1" height="21" fill="#0000ff"/>
<rect x="645" y="125" width="3" height="21" fill="#0000ff"/>
<rect x="650" y="126" width="1" height="17" fill="#0000ff"/>
<rect x="649" y="126" width="3" height="17" fill="#0000ff"/>
<rect x="653" y="103" width="1" height="21" fill="#0000ff"/>
<rect x="652" y="106" width="3" height="15" fill="#0000ff"/>
<rect x="657" y="96" width="1" height="12" fill="#ff0000"/>
<rect x="656" y="97" width="3" height="11" fill="#ff0000"/>
<rect x="660" y="72" width="1" height="29" fill="#0000ff"/>
<rect x="659" y="77" width="3" height="14" fill="#0000ff"/>
<rect x="663" y="64" width="1" height="15" fill="#0000ff"/>
<rect x="662" y="69" width="3" height="3" fill="#0000ff"/>
<rect x="667" y="45" width="1" height="20" fill="#ff0000"/>
<rect x="666" y="51" width="3" height="9" fill="#ff0000"/>
<rect x="670" y="55" width="1" height="27" fill="#ff0000"/>
<rect x="669" y="56" width="3" height="15" fill="#ff0000"/>
<rect x="673" y="56" width="1" height="18" fill="#ff0000"/>
<rect x="672" y="67" width="3" height="2" fill="#ff0000"/>
<rect x="677" y="79" width="1" height="14" fill="#ff0000"/>
<rect x="676" y="90" width="3" height="3" fill="#ff0000"/>
<rect x="680" y="85" width="1" height="11" fill="#0000ff"/>
<rect x="679" y="85" width="3" height="6" fill="#0000ff"/>
<rect x="683" y="56" width="1" height="21" fill="#ff0000"/>
<rect x="682" y="66" width="3" height="11" fill="#ff0000"/>
<rect x="687" y="83" width="1" height="24" fill="#ff0000"/>
<rect x="686" y="85" width="3" height="9" fill="#ff0000"/>
<rect x="690" y="72" width="1" height="21" fill="#ff0000"/>
<rect x="689" y="83" width="3" height="2" fill="#ff0000"/>
<rect x="693" y="63" width="1" height="12" fill="#ff0000"/>
<rect x="692" y="64" width="3" height="7" fill="#ff0000"/>
<rect x="697" y="80" width="1" height="28" fill="#ff0000"/>
<rect x="696" y="80" width="3" height="26" fill="#ff0000"/>
<rect x="700" y="133" width="1" height="15" fill="#ff0000"/>
<rect x="699" y="138" width="3" height="5" fill="#ff0000"/>
<rect x="703" y="124" width="1" height="21" fill="#ff0000"/>
<rect x="702" y="132" width="3" height="13" fill="#ff0000"/>
<rect x="707" y="106" width="1" height="14" fill="#0000ff"/>
<rect x="706" y="107" width="3" height="12" fill="#0000ff"/>
<rect x="710" y="127" width="1" height="23" fill="#ff0000"/>
<rect x="709" y="127" width="3" height="7" fill="#ff0000"/>
<rect x="713" y="131" width="1" height="19" fill="#ff0000"/>
<rect x="712" y="138" width="3" height="4" fill="#ff0000"/>
<rect x="717" y="92" width="1" height="26" fill="#0000ff"/>
<rect x="716" y="92" width="3" height="26" fill="#0000ff"/>
<rect x="720" y="83" width="1" height="21" fill="#0000ff"/>
<rect x="719" y="83" width="3" height="21" fill="#0000ff"/>
<rect x="723" y="123" width="1" height="24" fill="#ff0000"/>
<rect x="722" y="123" width="3" height="17" fill="#ff0000"/>
<rect x="730" y="106" width="1" height="11" fill="#ff0000"/>
<rect x="729" y="112" width="3" height="2" fill="#ff0000"/>
<rect x="744" y="154" width="1" height="32" fill="#ff0000"/>
<rect x="743" y="154" width="3" height="30" fill="#ff0000"/>
<rect x="747" y="226" width="1" height="42" fill="#ff0000"/>
<rect x="746" y="226" width="3" height="22" fill="#ff0000"/>
<rect x="750" y="213" width="1" height="35" fill="#0000ff"/>
<rect x="749" y="215" width="3" height="27" fill="#0000ff"/>
<rect x="754" y="193" width="1" height="49" fill="#ff0000"/>
<rect x="753" y="193" width="3" height="46" fill="#ff0000"/>
<rect x="757" y="221" width="1" height="30" fill="#ff0000"/>
<rect x="756" y="228" width="3" height="15" fill="#ff0000"/>
<rect x="760" y="194" width="1" height="20" fill="#0000ff"/>
<rect x="759" y="198" width="3" height="16" fill="#0000ff"/>
<rect x="764" y="211" width="1" height="31" fill="#0000ff"/>
<rect x="763" y="228" width="3" height="2" fill="#0000ff"/>
<rect x="767" y="254" width="1" height="33" fill="#ff0000"/>
<rect x="766" y="254" width="3" height="19" fill="#ff0000"/>
<rect x="770" y="253" width="1" height="27" fill="#ff0000"/>
<rect x="769" y="257" width="3" height="15" fill="#ff0000"/>
<rect x="774" y="282" width="1" height="28" fill="#0000ff"/>
<rect x="773" y="282" width="3" height="20" fill="#0000ff"/>
<rect x="777" y="287" width="1" height="31" fill="#ff0000"/>
<rect x="776" y="294" width="3" height="19" fill="#ff0000"/>
<rect x="780" y="351" width="1" height="26" fill="#ff0000"/>
<rect x="779" y="352" width="3" height="9" fill="#ff0000"/>
<rect x="784" y="358" width="1" height="19" fill="#0000ff"/>
<rect x="783" y="364" width="3" height="2" fill="#0000ff"/>
<rect x="787" y="387" width="1" height="41" fill="#ff0000"/>
<rect x="786" y="389" width="3" height="34" fill="#ff0000"/>
<rect x="790" y="391" width="1" height="28" fill="#ff0000"/>
<rect x="789" y="402" width="3" height="9" fill="#ff0000"/>
<rect x="794" y="388" width="1" height="47" fill="#0000ff"/>
<rect x="793" y="388" width="3" height="43" fill="#0000ff"/>
<rect x="797" y="352" width="1" height="24" fill="#ff0000"/>
<rect x="796" y="355" width="3" height="10" fill="#ff0000"/>
<rect x="800" y="350" width="1" height="20" fill="#0000ff"/>
<rect x="799" y="363" width="3" height="7" fill="#0000ff"/>
<rect x="804" y="367" width="1" height="17" fill="#ff0000"/>
<rect x="803" y="367" width="3" height="8" fill="#ff0000"/>
<rect x="807" y="364" width="1" height="39" fill="#ff0000"/>
<rect x="806" y="394" width="3" height="2" fill="#ff0000"/>
<rect x="811" y="334" width="1" height="32" fill="#0000ff"/>
<rect x="810" y="334" width="3" height="32" fill="#0000ff"/>
<rect x="814" y="325" width="1" height="18" fill="#ff0000"/>
<rect x="813" y="335" width="3" height="3" fill="#ff0000"/>
<rect x="817" y="373" width="1" height="41" fill="#ff0000"/>
<rect x="816" y="375" width="3" height="37" fill="#ff0000"/>
<rect x="821" y="398" width="1" height="29" fill="#0000ff"/>
<rect x="820" y="407" width="3" height="19" fill="#0000ff"/>
<rect x="824" y="417" width="1" height="21" fill="#ff0000"/>
<rect x="823" y="419" width="3" height="8" fill="#ff0000"/>
<rect x="827" y="406" width="1" height="21" fill="#0000ff"/>
<rect x="826" y="406" width="3" height="14" fill="#0000ff"/>
<rect x="831" y="363" width="1" height="18" fill="#0000ff"/>
<rect x="830" y="375" width="3" height="2" fill="#0000ff"/>
<rect x="834" y="341" width="1" height="12" fill="#0000ff"/>
<rect x="833" y="341" width="3" height="12" fill="#0000ff"/>
<rect x="837" y="335" width="1" height="16" fill="#0000ff"/>
<rect x="836" y="340" width="3" height="9" fill="#0000ff"/>
<rect x="841" y="297" width="1" height="13" fill="#0000ff"/>
<rect x="840" y="305" width="3" height="5" fill="#0000ff"/>
<rect x="844" y="308" width="1" height="12" fill="#ff0000"/>
<rect x="843" y="316" width="3" height="3" fill="#ff0000"/>
<rect x="847" y="312" width="1" height="13" fill="#ff0000"/>
<rect x="846" y="312" width="3" height="8" fill="#ff0000"/>
<rect x="851" y="269" width="1" height="29" fill="#0000ff"/>
<rect x="850" y="272" width="3" height="26" fill="#0000ff"/>
<rect x="854" y="282" width="1" height="15" fill="#ff0000"/>
<rect x="853" y="292" width="3" height="5" fill="#ff0000"/>
<rect x="857" y="323" width="1" height="12" fill="#ff0000"/>
<rect x="856" y="323" width="3" height="11" fill="#ff0000"/>
<rect x="861" y="316" width="1" height="22" fill="#0000ff"/>
<rect x="860" y="332" width="3" height="6" fill="#0000ff"/>
<rect x="864" y="358" width="1" height="18" fill="#ff0000"/>
<rect x="863" y="361" width="3" height="9" fill="#ff0000"/>
<rect x="867" y="364" width="1" height="16" fill="#ff0000"/>
<rect x="866" y="365" width="3" height="13" fill="#ff0000"/>
<rect x="871" y="364" width="1" height="41" fill="#ff0000"/>
<rect x="870" y="372" width="3" height="29" fill="#ff0000"/>
<rect x="874" y="430" width="1" height="14" fill="#ff0000"/>
<rect x="873" y="435" width="3" height="3" fill="#ff0000"/>
<rect x="877" y="454" width="1" height="29" fill="#ff0000"/>
<rect x="876" y="454" width="3" height="21" fill="#ff0000"/>
<rect x="881" y="461" width="1" height="19" fill="#ff0000"/>
<rect x="880" y="466" width="3" height="7" fill="#ff0000"/>
<rect x="884" y="457" width="1" height="13" fill="#0000ff"/>
<rect x="883" y="460" width="3" height="8" fill="#0000ff"/>
<rect x="888" y="443" width="1" height="51" fill="#0000ff"/>
<rect x="887" y="446" width="3" height="36" fill="#0000ff"/>
<rect x="18" y="22" width="879" height="1" fill="#000"/>
<rect x="18" y="525" width="879" height="1" fill="#000"/>
<rect x="18" y="22" width="1" height="504" fill="#000"/>
<rect x="896" y="22" width="1" height="504" fill="#000"/>
</svg>
<div class="t" style="left:18px;top:2px;font-size:14px;color:#000;letter-spacing:0.14px;">Japan Nikkei 225 Index (NKY) 9338.04 <span style="color:#0000ff">+71.26</span></div>
<div class="t" style="left:665px;top:2px;font-size:14px;color:#000;letter-spacing:0.6px;">www.fullermoney.com</div>
<div class="t" style="left:831px;top:2px;font-size:14px;color:#000;">6 Jul 2010</div>
<div class="t" style="left:22px;top:28px;font-size:14px;color:#0000ff;">Daily</div>
<div class="t" style="left:901px;top:22px;font-size:14px;color:#000;">11500</div>
<div class="t" style="left:901px;top:118px;font-size:14px;color:#000;">11000</div>
<div class="t" style="left:901px;top:215px;font-size:14px;color:#000;">10500</div>
<div class="t" style="left:901px;top:312px;font-size:14px;color:#000;">10000</div>
<div class="t" style="left:901px;top:409px;font-size:14px;color:#000;">9500</div>
<div class="t" style="left:901px;top:505px;font-size:14px;color:#000;">9000</div>
<div class="t" style="left:51px;top:528px;font-size:14px;color:#000;width:60px;text-align:center;">Aug</div>
<div class="t" style="left:121px;top:528px;font-size:14px;color:#000;width:60px;text-align:center;">Sep</div>
<div class="t" style="left:195px;top:528px;font-size:14px;color:#000;width:60px;text-align:center;">Oct</div>
<div class="t" style="left:272px;top:528px;font-size:14px;color:#000;width:60px;text-align:center;">Nov</div>
<div class="t" style="left:339px;top:528px;font-size:14px;color:#000;width:60px;text-align:center;">Dec</div>
<div class="t" style="left:416px;top:528px;font-size:14px;color:#000;width:60px;text-align:center;">2010</div>
<div class="t" style="left:486px;top:528px;font-size:14px;color:#000;width:60px;text-align:center;">Feb</div>
<div class="t" style="left:553px;top:528px;font-size:14px;color:#000;width:60px;text-align:center;">Mar</div>
<div class="t" style="left:630px;top:528px;font-size:14px;color:#000;width:60px;text-align:center;">Apr</div>
<div class="t" style="left:704px;top:528px;font-size:14px;color:#000;width:60px;text-align:center;">May</div>
<div class="t" style="left:774px;top:528px;font-size:14px;color:#000;width:60px;text-align:center;">Jun</div>
<div class="t" style="left:847px;top:528px;font-size:14px;color:#000;width:60px;text-align:center;">Jul</div>
<div class="t" style="left:760px;top:547px;font-size:9.5px;color:#888888;">&copy; 2010 Stockcube Research Ltd</div>
</body></html>
